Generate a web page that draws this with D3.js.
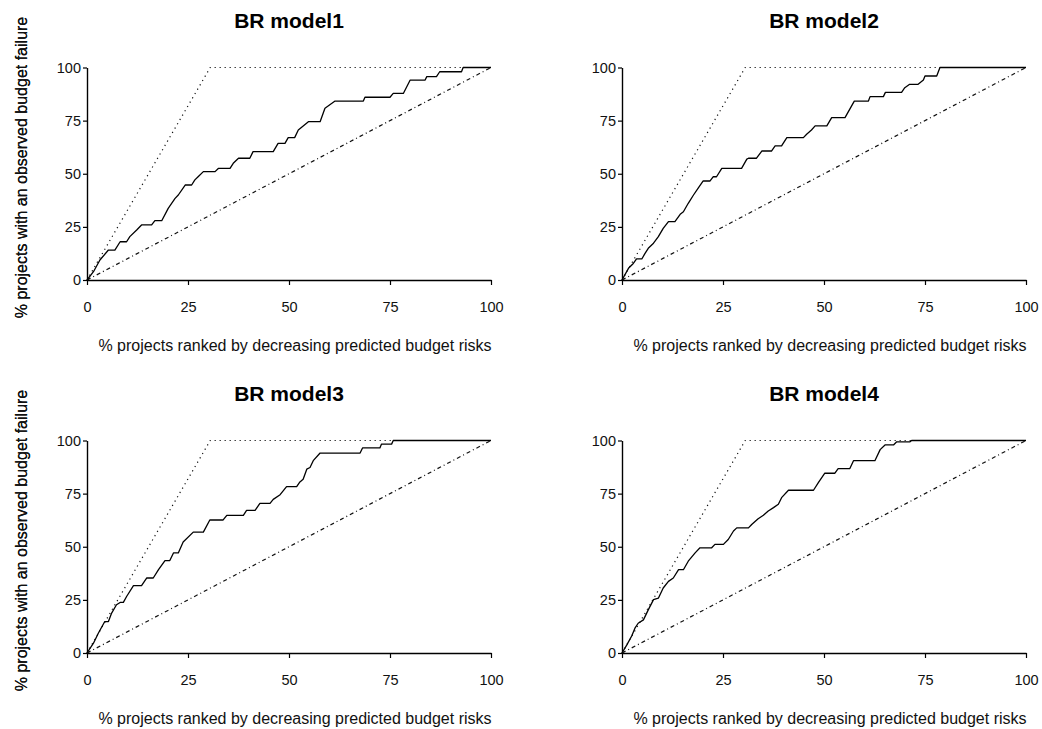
<!DOCTYPE html>
<html>
<head>
<meta charset="utf-8">
<script src="https://cdn.jsdelivr.net/npm/d3@7"></script>
<style>
  html, body { margin: 0; padding: 0; background: #fff; }
  svg { display: block; font-family: "Liberation Sans", Arial, sans-serif; }
</style>
</head>
<body>
<svg id="chart" width="1042" height="729"></svg>
<script>
// ---------- data ----------
const titles = ["BR model1", "BR model2", "BR model3", "BR model4"];
const xTicks = [0, 25, 50, 75, 100];
const yTicks = [0, 25, 50, 75, 100];
const xLabel = "% projects ranked by decreasing predicted budget risks";
const yLabel = "% projects with an observed budget failure";

// ideal (perfect ranking) and random (diagonal) reference lines
const idealX = [0, 30.5, 100];
const idealY = [0, 100, 100];
const randomX = [0, 100];
const randomY = [0, 100];

// cumulative gain curves
const m1x = [0, 1.6, 3.2, 5.3, 6.9, 8.2, 9.8, 10.6, 12.3, 13.5, 16.0, 16.8, 18.5, 20.1, 21.8, 22.6, 24.3, 25.9, 26.7, 27.5, 28.8, 31.7, 32.5, 35.4, 36.2, 37.5, 40.3, 41.1, 46.1, 47.3, 49.0, 49.8, 51.4, 52.3, 54.8, 57.7, 58.9, 61.4, 68.4, 68.8, 75.0, 75.8, 78.3, 80.0, 83.7, 84.1, 86.5, 87.3, 92.7, 93.1, 100];
const m1y = [0, 3.9, 9.4, 14.1, 14.1, 18.0, 18.0, 20.4, 23.5, 25.9, 25.9, 27.9, 27.9, 33.7, 38.4, 40.0, 44.7, 44.7, 47.1, 48.6, 51.0, 51.0, 52.5, 52.5, 54.9, 57.3, 57.3, 60.4, 60.4, 64.3, 64.3, 67.0, 67.0, 70.6, 74.5, 74.5, 80.8, 84.2, 84.2, 86.0, 86.0, 87.8, 87.8, 94.1, 94.1, 95.7, 95.7, 98.0, 98.0, 100, 100];

const m2x = [0, 1.6, 2.8, 3.6, 4.9, 5.7, 6.5, 7.8, 9.0, 10.2, 11.5, 13.1, 14.4, 15.2, 16.4, 17.7, 18.9, 20.1, 21.8, 22.6, 23.4, 24.7, 29.6, 30.9, 31.3, 33.3, 34.6, 37.0, 37.9, 39.5, 40.8, 44.9, 45.7, 46.9, 47.8, 50.7, 51.9, 55.2, 57.5, 61.0, 61.4, 64.7, 65.2, 69.2, 70.0, 71.2, 73.3, 74.6, 75.0, 77.9, 78.7, 100];
const m2y = [0, 5.5, 7.8, 9.9, 9.9, 12.5, 14.9, 17.3, 20.4, 24.3, 27.5, 27.5, 30.9, 32.1, 36.1, 40.0, 43.4, 46.6, 46.6, 48.6, 48.6, 52.5, 52.5, 56.9, 57.3, 57.3, 60.7, 60.7, 63.1, 63.1, 67.0, 67.0, 68.6, 70.6, 72.5, 72.5, 76.4, 76.4, 84.2, 84.2, 86.3, 86.3, 88.3, 88.3, 90.5, 92.1, 92.1, 94.1, 96.0, 96.0, 100, 100];

const m3x = [0, 1.6, 2.8, 4.4, 5.3, 6.1, 7.3, 8.2, 9.0, 9.8, 11.5, 13.5, 14.8, 16.4, 17.7, 19.3, 20.5, 21.4, 22.6, 23.8, 26.3, 28.8, 30.4, 33.7, 34.6, 38.7, 39.5, 41.6, 42.8, 45.3, 46.1, 47.8, 49.4, 51.9, 52.7, 53.5, 54.4, 55.2, 56.0, 57.7, 67.6, 68.2, 72.5, 72.9, 75.4, 75.8, 100];
const m3y = [0, 4.6, 9.3, 14.8, 14.8, 18.8, 22.7, 23.8, 23.8, 26.6, 31.7, 31.7, 35.3, 35.3, 39.2, 43.5, 43.5, 47.1, 47.1, 52.2, 56.9, 56.9, 62.6, 62.6, 64.8, 64.8, 67.1, 67.1, 70.4, 70.4, 72.3, 74.5, 78.3, 78.3, 80.5, 81.8, 86.5, 87.3, 90.5, 94.1, 94.1, 96.5, 96.5, 98.3, 98.3, 100, 100];

const m4x = [0, 1.2, 2.4, 3.2, 4.0, 5.3, 6.5, 7.8, 9.0, 10.2, 11.5, 12.7, 14.0, 15.2, 16.4, 18.1, 19.3, 22.2, 23.0, 25.1, 26.3, 27.6, 28.4, 31.3, 32.1, 33.7, 35.0, 36.2, 37.5, 38.7, 39.5, 41.2, 47.4, 48.6, 50.2, 52.7, 53.5, 56.4, 57.3, 62.6, 63.9, 65.1, 67.2, 68.0, 71.3, 71.7, 100];
const m4y = [0, 3.8, 8.0, 11.7, 14.0, 15.6, 20.3, 25.1, 25.8, 30.6, 33.7, 35.3, 39.2, 39.2, 43.2, 47.1, 49.5, 49.5, 51.1, 51.1, 53.4, 57.4, 58.9, 58.9, 60.5, 63.2, 64.8, 66.8, 68.4, 70.0, 73.1, 76.6, 76.6, 80.2, 84.6, 84.6, 86.8, 86.8, 90.5, 90.5, 95.7, 97.9, 97.9, 99.4, 99.4, 100, 100];

const modelX = [m1x, m2x, m3x, m4x];
const modelY = [m1y, m2y, m3y, m4y];

// ---------- layout ----------
const W = 404, H = 212.5;
const origins = [[87, 67.5], [622, 67.5], [87, 440.5], [622, 440.5]];

const svg = d3.select("#chart");
const x = d3.scaleLinear().domain([0, 100]).range([0, W]);
const y = d3.scaleLinear().domain([0, 100]).range([H, 0]);
const zip = (xs, ys) => xs.map((v, i) => [v, ys[i]]);
const line = d3.line().x(d => x(d[0])).y(d => y(d[1]));

titles.forEach((t, i) => {
  const [ox, oy] = origins[i];
  const g = svg.append("g").attr("transform", `translate(${ox},${oy})`);

  // title
  g.append("text")
    .attr("x", W / 2).attr("y", -39.8)
    .attr("text-anchor", "middle")
    .attr("font-size", 21).attr("font-weight", "bold").attr("fill", "#000")
    .text(t);

  // random diagonal
  g.append("path").datum(zip(randomX, randomY))
    .attr("d", line).attr("fill", "none")
    .attr("stroke", "#111").attr("stroke-width", 1.2)
    .attr("stroke-dasharray", "4,3,1,3");

  // ideal
  g.append("path").datum(zip(idealX, idealY))
    .attr("d", line).attr("fill", "none")
    .attr("stroke", "#111").attr("stroke-width", 1.2)
    .attr("stroke-dasharray", "1.2,3.8");

  // model curve
  g.append("path").datum(zip(modelX[i], modelY[i]))
    .attr("d", line).attr("fill", "none")
    .attr("stroke", "#000").attr("stroke-width", 1.3)
    .attr("stroke-linejoin", "round");

  // axes
  const ax = g.append("g").attr("transform", `translate(0,${H})`)
    .call(d3.axisBottom(x).tickValues(xTicks).tickSize(5).tickSizeOuter(0).tickPadding(17));
  const ay = g.append("g")
    .call(d3.axisLeft(y).tickValues(yTicks).tickSize(4).tickSizeOuter(0).tickPadding(2));
  [ax, ay].forEach(a => {
    a.select(".domain").attr("stroke", "#000").attr("stroke-width", 1.4);
    a.selectAll(".tick line").attr("stroke", "#000").attr("stroke-width", 1.2);
    a.selectAll(".tick text").attr("font-size", 14.5)
      .attr("font-family", "'Liberation Sans', Arial, sans-serif").attr("fill", "#111");
  });

  // axis labels
  g.append("text")
    .attr("x", 208).attr("y", H + 71)
    .attr("text-anchor", "middle").attr("font-size", 16).attr("fill", "#111")
    .text(xLabel);
  g.append("text")
    .attr("transform", `translate(${26.5 - ox},${167.5 - 67.5}) rotate(-90)`)
    .attr("text-anchor", "middle").attr("font-size", 16).attr("fill", "#111")
    .text(yLabel);
});
</script>
</body>
</html>
